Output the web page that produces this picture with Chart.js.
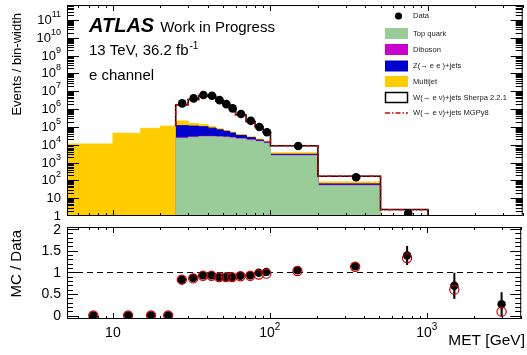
<!DOCTYPE html>
<html>
<head>
<meta charset="utf-8">
<script src="https://cdn.jsdelivr.net/npm/chart.js@4.4.0/dist/chart.umd.min.js"></script>
<style>
  html, body { margin: 0; padding: 0; background: #fff; }
  #wrap { position: relative; width: 527px; height: 355px; overflow: hidden; }
  #wrap canvas { position: absolute; left: 0; top: 0; }
</style>
</head>
<body>
<div id="wrap">
  <canvas id="topPanel" width="527" height="355"></canvas>
  <canvas id="ratioPanel" width="527" height="355"></canvas>
</div>
<script>
const FONT = '"Liberation Sans", Arial, Helvetica, sans-serif';

// MET bins [GeV]
const binEdges = [5, 10, 15, 20, 25, 30, 35, 40, 45, 50, 55, 60, 70, 80, 90, 100, 200, 500, 1000, 2000, 4000];
const binCentres = [7.5, 12.5, 17.5, 22.5, 27.5, 32.5, 37.5, 42.5, 47.5, 52.5, 57.5, 65, 75, 85, 95, 150, 350, 750, 1500, 3000];

// Events / bin-width
const dataEvents = [null, null, null, null, 2.1e6, 4.0e6, 6.2e6, 5.6e6, 3.2e6, 1.9e6, 1.1e6, 5.3e5, 2.2e5, 1.0e5, 5.0e4, 8.5e3, 149, 1.4, 0.3, 0.05];
const topQuark = [0, 0, 0, 0, 2.3e4, 2.6e4, 2.8e4, 2.8e4, 2.7e4, 2.6e4, 2.4e4, 2.1e4, 1.8e4, 1.5e4, 1.2e4, 2.4e3, 50, 0.5, 0.05, 0.01];
const diboson = [0, 0, 0, 0, 1.4e3, 1.6e3, 1.7e3, 1.7e3, 1.6e3, 1.5e3, 1.4e3, 1.3e3, 1.1e3, 900, 700, 150, 4, 0.05, 0.01, 0];
const zJets = [0, 0, 0, 0, 9.3e4, 8.4e4, 7.3e4, 5.6e4, 4.0e4, 2.9e4, 2.0e4, 1.1e4, 6.0e3, 2.6e3, 1.5e3, 350, 9, 0.1, 0, 0];
const multijet = [1.1e4, 4.4e4, 8.3e4, 1.1e5, 9.7e4, 4.6e4, 3.2e4, 1.7e4, 1.0e4, 7.0e3, 6.0e3, 5.0e3, 3.0e3, 2.5e3, 1.8e3, 600, 18, 0.2, 0, 0];
const wSherpa = [0, 0, 0, 0, 1.53e6, 3.32e6, 5.63e6, 5.1e6, 2.77e6, 1.63e6, 9.3e5, 4.5e5, 1.77e5, 7.8e4, 3.45e4, 5.4e3, 89, 1.45, 0.2, 0.013];
const wMGPy8 = [0, 0, 0, 0, 1.53e6, 3.28e6, 5.57e6, 5.05e6, 2.77e6, 1.63e6, 9.3e5, 4.44e5, 1.74e5, 7.4e4, 3.25e4, 5.26e3, 87, 1.36, 0.18, 0.005];

// MC / Data
const ratioSherpa = [0, 0, 0, 0, 0.83, 0.87, 0.93, 0.93, 0.89, 0.89, 0.89, 0.92, 0.93, 0.99, 1.01, 1.05, 1.14, 1.39, 0.69, 0.26];
const ratioSherpaErr = [0, 0, 0, 0, 0.01, 0.01, 0.01, 0.01, 0.01, 0.01, 0.01, 0.01, 0.01, 0.01, 0.01, 0.02, 0.04, 0.22, 0.30, 0.28];
const ratioMGPy8 = [0, 0, 0, 0, 0.83, 0.86, 0.92, 0.92, 0.89, 0.89, 0.89, 0.91, 0.92, 0.95, 0.97, 1.03, 1.13, 1.33, 0.60, 0.09];
const ratioMGPy8Err = [0, 0, 0, 0, 0.01, 0.01, 0.01, 0.01, 0.01, 0.01, 0.01, 0.01, 0.01, 0.01, 0.01, 0.02, 0.04, 0.14, 0.21, 0.08];

// tick labels
const yTickLabels = ['1', '10', '10^2', '10^3', '10^4', '10^5', '10^6', '10^7', '10^8', '10^9', '10^10', '10^11'];
const xTickLabels = ['10', '10^2', '10^3'];
const ratioTickLabels = ['0', '0.5', '1', '1.5', '2'];

const colors = {
  top: '#99cc99', dib: '#cc00cc', z: '#0000cc', mj: '#ffcc00', red: '#cc0000'
};

// stacked sums
const sum = (a, b) => a.map((v, i) => v + b[i]);
const stTop = topQuark;
const stDib = sum(stTop, diboson);
const stZ = sum(stDib, zJets);
const stMJ = sum(stZ, multijet);
const stSherpa = sum(stMJ, wSherpa);
const stMG = sum(stMJ, wMGPy8);
const firstW = wSherpa.findIndex(v => v > 0);

const labelValue = s => s.includes('^') ? Math.pow(10, +s.split('^')[1]) : +s;

// histogram: two points per bin (low edge, high edge)
function stepLine(vals, opts) {
  const pts = [];
  vals.forEach((v, i) => {
    pts.push({ x: binEdges[i], y: v });
    pts.push({ x: binEdges[i + 1], y: v });
  });
  return Object.assign({ data: pts, pointRadius: 0, borderWidth: 1, fill: false, tension: 0 }, opts);
}
// hide outline before the first W bin (keep the rising edge)
const hideBefore = color => ({
  borderColor: c => c.p0DataIndex < 2 * firstW - 1 ? 'rgba(0,0,0,0)' : color
});

function logTicks(min, max) {
  const out = [];
  for (let d = Math.floor(Math.log10(min)); d <= Math.ceil(Math.log10(max)); d++) {
    for (let m = 1; m <= 9; m++) {
      const v = m * Math.pow(10, d);
      if (v >= min && v <= max) out.push({ v, major: m === 1 });
    }
  }
  return out;
}

// text like 10^5 with a raised exponent
function drawPow(ctx, label, x, y, align, size, supSize, rise) {
  const parts = label.split('^');
  ctx.font = size + 'px ' + FONT;
  const wb = ctx.measureText(parts[0]).width;
  let we = 0;
  if (parts[1]) { ctx.font = supSize + 'px ' + FONT; we = ctx.measureText(parts[1]).width; }
  const total = wb + we;
  const x0 = align === 'right' ? x - total : align === 'center' ? x - total / 2 : x;
  ctx.textAlign = 'left';
  ctx.font = size + 'px ' + FONT;
  ctx.fillText(parts[0], x0, y);
  if (parts[1]) {
    ctx.font = supSize + 'px ' + FONT;
    ctx.fillText(parts[1], x0 + wb, y - rise);
  }
}

// ROOT style frame with inward ticks
function drawFrame(chart, yTicks, yMaj, yMin, xMaj, xMin) {
  const { ctx, chartArea: a, scales } = chart;
  ctx.save();
  ctx.strokeStyle = '#000';
  ctx.lineWidth = 1;
  ctx.beginPath();
  yTicks.forEach(t => {
    const y = Math.round(scales.y.getPixelForValue(t.v)) + 0.5;
    if (y < a.top || y > a.bottom) return;
    const len = t.major ? yMaj : yMin;
    ctx.moveTo(a.left, y); ctx.lineTo(a.left + len, y);
    ctx.moveTo(a.right, y); ctx.lineTo(a.right - len, y);
  });
  logTicks(scales.x.min, scales.x.max).forEach(t => {
    const x = Math.round(scales.x.getPixelForValue(t.v)) + 0.5;
    const len = t.major ? xMaj : xMin;
    ctx.moveTo(x, a.bottom); ctx.lineTo(x, a.bottom - len);
    ctx.moveTo(x, a.top); ctx.lineTo(x, a.top + len);
  });
  ctx.stroke();
  ctx.strokeRect(a.left + 0.5, a.top + 0.5, a.right - a.left - 1, a.bottom - a.top - 1);
  ctx.restore();
}

const topDecor = {
  id: 'topDecor',
  afterDraw(chart) {
    const { ctx, scales } = chart;
    const yt = logTicks(scales.y.min, scales.y.max);
    drawFrame(chart, yt, 12, 7, 6, 3);

    ctx.save();
    ctx.fillStyle = '#000';
    ctx.textBaseline = 'alphabetic';
    yTickLabels.forEach(l => {
      const y = scales.y.getPixelForValue(labelValue(l));
      drawPow(ctx, l, 61, y + 4, 'right', 13, 9, 7);
    });

    // y title
    ctx.save();
    ctx.translate(21, 13);
    ctx.rotate(-Math.PI / 2);
    ctx.font = '13px ' + FONT;
    ctx.textAlign = 'right';
    ctx.fillText('Events / bin-width', 0, 0);
    ctx.restore();

    // ATLAS label
    ctx.textAlign = 'left';
    ctx.font = 'italic bold 20px ' + FONT;
    ctx.fillText('ATLAS', 89, 32);
    const wA = ctx.measureText('ATLAS').width;
    ctx.font = '15px ' + FONT;
    ctx.fillText('Work in Progress', 89 + wA + 6, 32);
    ctx.fillText('13 TeV, 36.2 fb', 89, 55);
    const wL = ctx.measureText('13 TeV, 36.2 fb').width;
    ctx.font = '10px ' + FONT;
    ctx.fillText('-1', 89 + wL + 1, 49);
    ctx.font = '15px ' + FONT;
    ctx.fillText('e channel', 89, 80);

    // legend
    const lx = 385, lw = 23, tx = 413;
    const rows = [
      { t: 'Data', y: 16, kind: 'dot' },
      { t: 'Top quark', y: 33.5, kind: 'box', c: colors.top },
      { t: 'Diboson', y: 49.5, kind: 'box', c: colors.dib },
      { t: 'Z(\u2192 e e )+jets', y: 66, kind: 'box', c: colors.z },
      { t: 'Multijet', y: 81.5, kind: 'box', c: colors.mj },
      { t: 'W(\u2192 e \u03bd)+jets Sherpa 2.2.1', y: 97.5, kind: 'outline' },
      { t: 'W(\u2192 e \u03bd)+jets MGPy8', y: 113, kind: 'dash' }
    ];
    rows.forEach(r => {
      if (r.kind === 'dot') {
        ctx.fillStyle = '#000';
        ctx.beginPath(); ctx.arc(lx + lw / 2 + 2, r.y, 3.6, 0, Math.PI * 2); ctx.fill();
      } else if (r.kind === 'box') {
        ctx.fillStyle = r.c;
        ctx.fillRect(lx, r.y - 5.5, lw, 11);
      } else if (r.kind === 'outline') {
        ctx.strokeStyle = '#000'; ctx.lineWidth = 1.5;
        ctx.strokeRect(lx + 0.5, r.y - 5, lw - 1, 10);
      } else {
        ctx.strokeStyle = colors.red; ctx.lineWidth = 1.5;
        ctx.setLineDash([5, 2, 1.5, 2]);
        ctx.beginPath(); ctx.moveTo(lx, r.y); ctx.lineTo(lx + lw, r.y); ctx.stroke();
        ctx.setLineDash([]);
      }
      ctx.fillStyle = '#222';
      ctx.font = '7.6px ' + FONT;
      ctx.textBaseline = 'middle';
      ctx.fillText(r.t, tx, r.y);
    });
    ctx.restore();
  }
};

const ratioDecor = {
  id: 'ratioDecor',
  beforeDatasetsDraw(chart) {
    const { ctx, chartArea: a, scales } = chart;
    ctx.save();
    // reference line at 1
    ctx.strokeStyle = '#000';
    ctx.lineWidth = 1;
    ctx.setLineDash([6, 4]);
    const y1 = Math.round(scales.y.getPixelForValue(1)) + 0.5;
    ctx.beginPath(); ctx.moveTo(a.left, y1); ctx.lineTo(a.right, y1); ctx.stroke();
    ctx.setLineDash([]);
    // error bars
    const bars = (vals, errs, color, w) => {
      ctx.strokeStyle = color; ctx.lineWidth = w;
      ctx.beginPath();
      vals.forEach((v, i) => {
        if (!errs[i]) return;
        const x = scales.x.getPixelForValue(binCentres[i]);
        ctx.moveTo(x, scales.y.getPixelForValue(Math.max(v - errs[i], scales.y.min)));
        ctx.lineTo(x, scales.y.getPixelForValue(Math.min(v + errs[i], scales.y.max)));
      });
      ctx.stroke();
    };
    bars(ratioMGPy8, ratioMGPy8Err, colors.red, 1.5);
    bars(ratioSherpa, ratioSherpaErr, '#000', 2);
    ctx.restore();
  },
  afterDraw(chart) {
    const { ctx, scales } = chart;
    const yt = [];
    for (let k = 0; k <= 20; k++) yt.push({ v: k / 10, major: k % 5 === 0 });
    drawFrame(chart, yt, 11, 6, 6, 3);

    ctx.save();
    ctx.fillStyle = '#000';
    ctx.textBaseline = 'middle';
    ctx.textAlign = 'right';
    ctx.font = '14px ' + FONT;
    ratioTickLabels.forEach(l => {
      ctx.fillText(l, 61, scales.y.getPixelForValue(+l) + 0.5);
    });
    ctx.textBaseline = 'alphabetic';
    xTickLabels.forEach(l => {
      drawPow(ctx, l, scales.x.getPixelForValue(labelValue(l)), 337, 'center', 14, 10, 7);
    });
    ctx.font = '15.5px ' + FONT;
    ctx.textAlign = 'right';
    ctx.fillText('MET [GeV]', 525, 345);

    ctx.save();
    ctx.translate(21, 230);
    ctx.rotate(-Math.PI / 2);
    ctx.font = '15px ' + FONT;
    ctx.textAlign = 'right';
    ctx.fillText('MC / Data', 0, 0);
    ctx.restore();
    ctx.restore();
  }
};

const xScale = { type: 'logarithmic', min: 5.1, max: 4000, display: false };

new Chart(document.getElementById('topPanel'), {
  type: 'line',
  data: {
    datasets: [
      {
        label: 'Data',
        data: binCentres.map((x, i) => ({ x, y: dataEvents[i] })).filter(p => p.y !== null),
        showLine: false, pointRadius: 4.3, pointBackgroundColor: '#000', pointBorderColor: '#000',
        pointBorderWidth: 0, clip: 0
      },
      stepLine(stMG, {
        label: 'W MGPy8', borderColor: colors.red, borderWidth: 1.5, borderDash: [5, 2, 1.5, 2],
        segment: hideBefore(colors.red)
      }),
      stepLine(stSherpa, {
        label: 'W Sherpa', borderColor: '#000', borderWidth: 1.5,
        segment: hideBefore('#000')
      }),
      stepLine(stTop, { label: 'Top quark', borderColor: colors.top, backgroundColor: colors.top, fill: 'start' }),
      stepLine(stDib, { label: 'Diboson', borderColor: colors.dib, backgroundColor: colors.dib, fill: 'start' }),
      stepLine(stZ, { label: 'Z+jets', borderColor: colors.z, backgroundColor: colors.z, fill: 'start' }),
      stepLine(stMJ, { label: 'Multijet', borderColor: colors.mj, backgroundColor: colors.mj, fill: 'start' })
    ]
  },
  options: {
    responsive: false,
    animation: false,
    layout: { padding: { left: 67, top: 5, right: 0, bottom: 139 } },
    plugins: { legend: { display: false }, tooltip: { enabled: false } },
    scales: {
      x: xScale,
      y: { type: 'logarithmic', min: 1, max: 7e11, display: false }
    }
  },
  plugins: [topDecor]
});

new Chart(document.getElementById('ratioPanel'), {
  type: 'line',
  data: {
    datasets: [
      {
        label: 'MGPy8 / Data',
        data: binCentres.map((x, i) => ({ x, y: ratioMGPy8[i] })),
        showLine: false, pointRadius: 4.6, pointBorderWidth: 1.2,
        pointBorderColor: colors.red, pointBackgroundColor: 'rgba(0,0,0,0)'
      },
      {
        label: 'Sherpa / Data',
        data: binCentres.map((x, i) => ({ x, y: ratioSherpa[i] })),
        showLine: false, pointRadius: 4.2, pointBorderWidth: 0,
        pointBackgroundColor: '#000', pointBorderColor: '#000'
      }
    ]
  },
  options: {
    responsive: false,
    animation: false,
    layout: { padding: { left: 67, top: 227, right: 0, bottom: 36 } },
    plugins: { legend: { display: false }, tooltip: { enabled: false } },
    scales: {
      x: Object.assign({}, xScale),
      y: { type: 'linear', min: -0.08, max: 2.05, display: false }
    }
  },
  plugins: [ratioDecor]
});
</script>
</body>
</html>
